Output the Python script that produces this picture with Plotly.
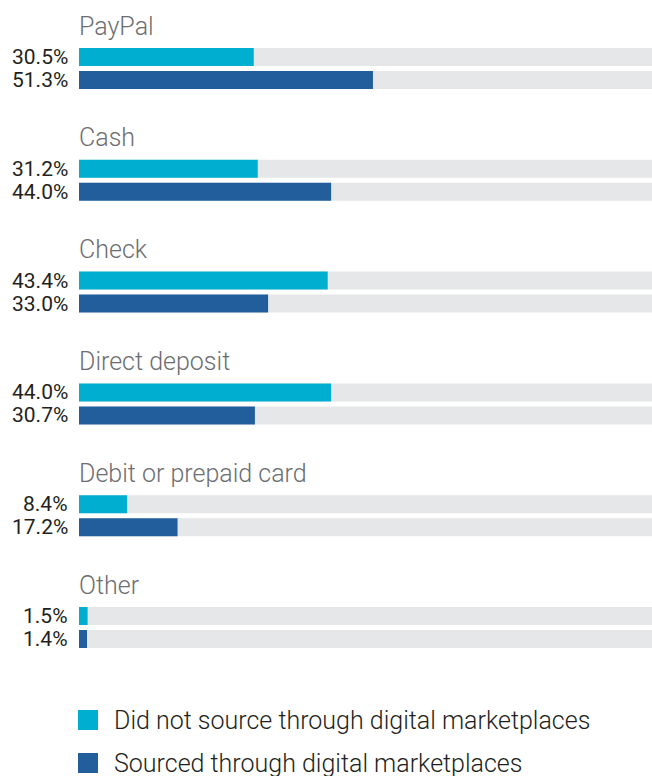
import plotly.graph_objects as go

categories = ["PayPal", "Cash", "Check", "Direct deposit", "Debit or prepaid card", "Other"]
did_not_source = [30.5, 31.2, 43.4, 44.0, 8.4, 1.5]
sourced = [51.3, 44.0, 33.0, 30.7, 17.2, 1.4]
series_names = ["Did not source through digital marketplaces", "Sourced through digital marketplaces"]

C_CYAN = "#00AFCF"
C_BLUE = "#225E9C"
C_TRACK = "#E6E7E8"
C_TITLE = "#6D6E71"
C_TEXT = "#231F20"

W, H = 652, 776
L = 79
GROUP_PITCH = 111.8
FIRST_BAR = 57
ROW_PITCH = 23
TITLE_OFFSET = -31
BAR_W = 18

VAL_FONT = dict(family="Roboto, sans-serif", size=21, color=C_TEXT)
TITLE_FONT = dict(family="Roboto, sans-serif", size=25, color=C_TITLE, weight=300)
LEG_FONT = dict(family="Roboto, sans-serif", size=25, color=C_TEXT, weight=300)

fig = go.Figure()

n = len(categories)
series = [did_not_source, sourced]
colors = [C_CYAN, C_BLUE]
all_y = []
for j in range(2):
    ys = [FIRST_BAR + i * GROUP_PITCH + j * ROW_PITCH for i in range(n)]
    all_y.extend(ys)
# background tracks (100%)
fig.add_trace(go.Bar(x=[100] * len(all_y), y=all_y, orientation="h", width=BAR_W,
                     marker=dict(color=C_TRACK, line=dict(width=0)), showlegend=False, hoverinfo="skip"))
for j in range(2):
    ys = [FIRST_BAR + i * GROUP_PITCH + j * ROW_PITCH for i in range(n)]
    fig.add_trace(go.Bar(x=series[j], y=ys, orientation="h", width=BAR_W, name=series_names[j],
                         marker=dict(color=colors[j], line=dict(width=0)), showlegend=False))
    for v, y in zip(series[j], ys):
        fig.add_annotation(x=0, y=y, xref="x", yref="y", text=f"{v:.1f}%", showarrow=False,
                           xanchor="right", yanchor="middle", xshift=-9, font=VAL_FONT)

for i, c in enumerate(categories):
    fig.add_annotation(x=0, y=FIRST_BAR + i * GROUP_PITCH + TITLE_OFFSET, xref="x", yref="y", text=c,
                       showarrow=False, xanchor="left", yanchor="middle", xshift=-2, font=TITLE_FONT)

# manual legend
px_per_unit = (W - L) / 100.0
leg_x = (88 - L) / px_per_unit
leg_y = [720, 763]
fig.add_trace(go.Scatter(x=[leg_x, leg_x], y=leg_y, mode="markers",
                         marker=dict(symbol="square", size=20, color=colors, line=dict(width=0)),
                         showlegend=False, hoverinfo="skip", cliponaxis=False))
for name, y in zip(series_names, leg_y):
    fig.add_annotation(x=leg_x, y=y, xref="x", yref="y", text=name, showarrow=False,
                       xanchor="left", yanchor="middle", xshift=24, font=LEG_FONT)

fig.update_layout(
    width=W, height=H, barmode="overlay",
    margin=dict(l=L, r=0, t=0, b=0, pad=0),
    paper_bgcolor="white", plot_bgcolor="white",
    xaxis=dict(range=[0, 100], visible=False, fixedrange=True),
    yaxis=dict(range=[H, 0], visible=False, fixedrange=True),
    showlegend=False,
)
fig.write_html("out.html")
